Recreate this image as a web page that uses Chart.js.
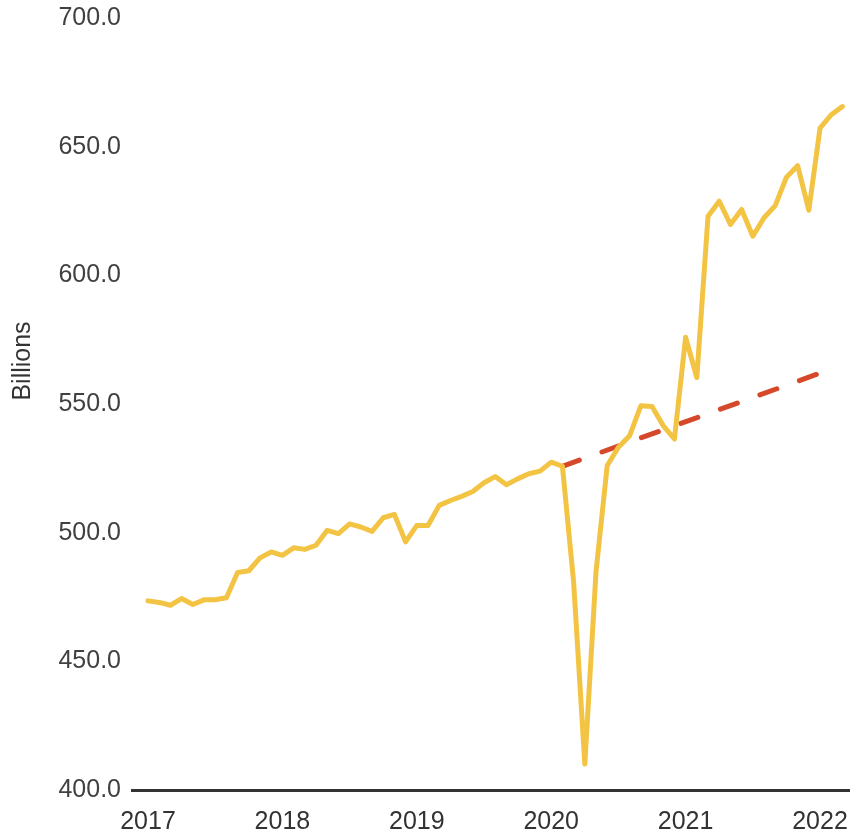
<!DOCTYPE html>
<html>
<head>
<meta charset="utf-8">
<script src="https://cdn.jsdelivr.net/npm/chart.js@4"></script>
<style>
  html, body { margin: 0; padding: 0; background: #fff; }
  #wrap { width: 850px; height: 836px; }
</style>
</head>
<body>
<div id="wrap"><canvas id="myChart"></canvas></div>
<script>
// monthly values, Jan 2017 .. Mar 2022 (billions)
const startYear = 2017;
const actual = [
  473.5, 472.9, 471.8, 474.4, 472.1, 473.9, 473.9, 474.7, 484.5, 485.2, 490.2, 492.5,
  491.2, 494.1, 493.5, 495.1, 500.9, 499.6, 503.4, 502.2, 500.5, 505.8, 507.1, 496.4,
  502.8, 502.8, 510.6, 512.5, 514.1, 516.0, 519.4, 521.8, 518.6, 520.9, 522.9, 523.9,
  527.4, 525.8, 480.9, 410.1, 484.8, 526.1, 533.2, 537.7, 549.3, 549.0, 541.6, 536.4,
  575.9, 560.3, 623.0, 628.8, 619.8, 625.6, 615.2, 622.4, 627.1, 638.1, 642.6, 625.3,
  657.2, 662.4, 665.6
];
// pre-pandemic trend: Feb 2020 -> Jan 2022
const trendMonths = [37, 60];
const trendValues = [525.8, 562.0];

const yearTicks = [2017, 2018, 2019, 2020, 2021, 2022];
const valueTicks = [400, 450, 500, 550, 600, 650, 700];
const yTitle = "Billions";

const actualPts = actual.map((v, i) => ({ x: startYear + i / 12, y: v }));
const trendPts = trendMonths.map((m, i) => ({ x: startYear + m / 12, y: trendValues[i] }));

const FONT = "'Liberation Sans', Arial, sans-serif";

// y title sits a bit above the middle in the original, so draw it by hand
const yTitlePlugin = {
  id: "yTitle",
  afterDraw(chart) {
    const c = chart.ctx;
    c.save();
    c.translate(23, 361);
    c.rotate(-Math.PI / 2);
    c.font = "25px " + FONT;
    c.fillStyle = "#333";
    c.textAlign = "center";
    c.textBaseline = "middle";
    c.fillText(yTitle, 0, 0);
    c.restore();
  },
};

const ctx = document.getElementById("myChart");
new Chart(ctx, {
  type: "line",
  data: {
    datasets: [
      {
        label: "Actual",
        data: actualPts,
        borderColor: "#f3c443",
        borderWidth: 5,
        pointRadius: 0,
        tension: 0,
        borderJoinStyle: "round",
        borderCapStyle: "round",
        order: 1,
      },
      {
        label: "Trend",
        data: trendPts,
        borderColor: "#d6482a",
        borderWidth: 5,
        borderDash: [18, 24],
        borderCapStyle: "round",
        pointRadius: 0,
        tension: 0,
        order: 2,
      },
    ],
  },
  options: {
    responsive: true,
    maintainAspectRatio: false,
    animation: false,
    layout: { padding: { top: 18, right: 0, left: 0, bottom: 0 } },
    plugins: { legend: { display: false }, tooltip: { enabled: false } },
    scales: {
      x: {
        type: "linear",
        min: 2016.881,
        max: 2022.223,
        grid: { display: false, drawTicks: false },
        border: { display: true, color: "#333", width: 3 },
        afterBuildTicks: (s) => { s.ticks = yearTicks.map((v) => ({ value: v })); },
        afterFit: (s) => {
          s.height = 46;
          s.paddingLeft = 0;
          s.paddingRight = 0;
        },
        ticks: {
          autoSkip: false,
          maxRotation: 0,
          padding: 17,
          color: "#333",
          font: { family: FONT, size: 25 },
          callback: (v) => String(v),
        },
      },
      y: {
        min: 400,
        max: 700,
        grid: { display: false, drawTicks: false },
        border: { display: false },
        afterBuildTicks: (s) => { s.ticks = valueTicks.map((v) => ({ value: v })); },
        afterFit: (s) => {
          s.width = 132;
          s.paddingTop = 0;
          s.paddingBottom = 0;
        },
        ticks: {
          padding: 11,
          color: "#404040",
          font: { family: FONT, size: 25 },
          callback: (v) => v.toFixed(1),
        },
      },
    },
  },
  plugins: [yTitlePlugin],
});
</script>
</body>
</html>
